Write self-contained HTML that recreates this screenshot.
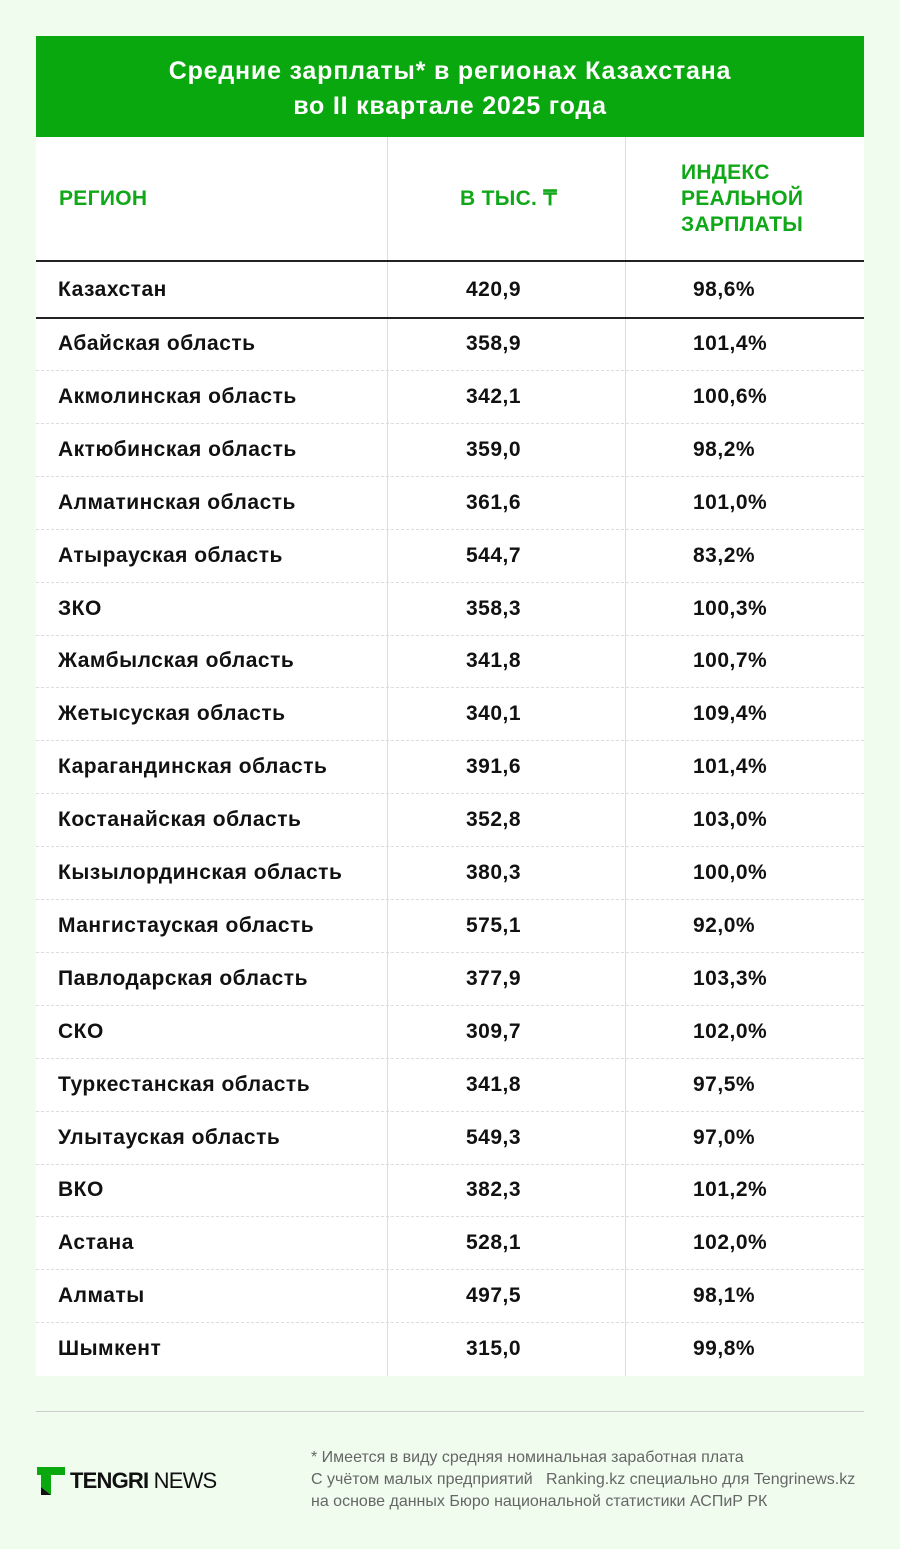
<!DOCTYPE html>
<html><head><meta charset="utf-8"><style>
*{margin:0;padding:0;box-sizing:border-box}
body{width:900px;height:1549px;background:#effcee;font-family:"Liberation Sans",sans-serif;position:relative;overflow:hidden}
.hdr{position:absolute;left:36px;top:36px;width:828px;height:101px;background:#0aa80f;color:#fff;font-weight:bold;font-size:25px;letter-spacing:0.8px;text-align:center;line-height:35px;padding-top:18px}
.tbl{position:absolute;left:36px;top:137px;width:828px;height:1239px;background:#fff}
.vl{position:absolute;top:137px;height:1239px;width:1px;background:#ddd}
.h{position:absolute;color:#10a818;font-weight:bold;font-size:21px;line-height:26px;letter-spacing:0.3px}
.row{position:absolute;left:36px;width:828px;height:53px;font-size:21px;font-weight:bold;color:#111;border-bottom:1px dashed #ddd;letter-spacing:0.5px}
.row span{position:absolute;top:0;line-height:52px}
.c1{left:22px}.c2{left:430px}.c3{left:657px}
.foot{position:absolute;left:311px;font-size:16px;color:#666;line-height:22px}
</style></head><body>
<div class="hdr">Средние зарплаты* в регионах Казахстана<br>во II квартале 2025 года</div>
<div class="tbl"></div>
<div class="vl" style="left:387px"></div>
<div class="vl" style="left:625px"></div>
<div class="h" style="left:59px;top:186px">РЕГИОН</div>
<div class="h" style="left:460px;top:186px">В ТЫС. ₸</div>
<div class="h" style="left:681px;top:160px">ИНДЕКС<br>РЕАЛЬНОЙ<br>ЗАРПЛАТЫ</div>
<div style="position:absolute;left:36px;top:260px;width:828px;height:2px;background:#222"></div>
<div class="row" style="top:262px;height:56px;border:none"><span class="c1" style="line-height:56px">Казахстан</span><span class="c2" style="line-height:56px">420,9</span><span class="c3" style="line-height:56px">98,6%</span></div>
<div style="position:absolute;left:36px;top:317px;width:828px;height:2px;background:#222"></div>
<div id="rows"></div>
<div style="position:absolute;left:36px;top:1411px;width:828px;height:1px;background:#ccc"></div>
<svg style="position:absolute;left:37px;top:1467px" width="28" height="28" viewBox="0 0 28 28"><path d="M0 0H28V8H14V28L4 20V8H0Z" fill="#0aa80f"/><path d="M4 20L14 28H4Z" fill="#111"/></svg>
<div style="position:absolute;left:70px;top:1467px;font-size:22px;line-height:28px;color:#111;letter-spacing:-0.8px"><b>TENGRI</b> NEWS</div>
<div class="foot" style="top:1447px">* Имеется в виду средняя номинальная заработная плата</div>
<div class="foot" style="top:1469px">С учётом малых предприятий &nbsp; Ranking.kz специально для Tengrinews.kz</div>
<div class="foot" style="top:1491px">на основе данных Бюро национальной статистики АСПиР РК</div>
<script>
var d=[["Абайская область","358,9","101,4%"],["Акмолинская область","342,1","100,6%"],["Актюбинская область","359,0","98,2%"],["Алматинская область","361,6","101,0%"],["Атырауская область","544,7","83,2%"],["ЗКО","358,3","100,3%"],["Жамбылская область","341,8","100,7%"],["Жетысуская область","340,1","109,4%"],["Карагандинская область","391,6","101,4%"],["Костанайская область","352,8","103,0%"],["Кызылординская область","380,3","100,0%"],["Мангистауская область","575,1","92,0%"],["Павлодарская область","377,9","103,3%"],["СКО","309,7","102,0%"],["Туркестанская область","341,8","97,5%"],["Улытауская область","549,3","97,0%"],["ВКО","382,3","101,2%"],["Астана","528,1","102,0%"],["Алматы","497,5","98,1%"],["Шымкент","315,0","99,8%"]];
var h="";d.forEach(function(r,i){h+='<div class="row" style="top:'+(318+i*52.9)+'px;'+(i==19?'border:none':'')+'"><span class="c1">'+r[0]+'</span><span class="c2">'+r[1]+'</span><span class="c3">'+r[2]+'</span></div>'});
document.getElementById("rows").outerHTML=h;
</script>
</body></html>
